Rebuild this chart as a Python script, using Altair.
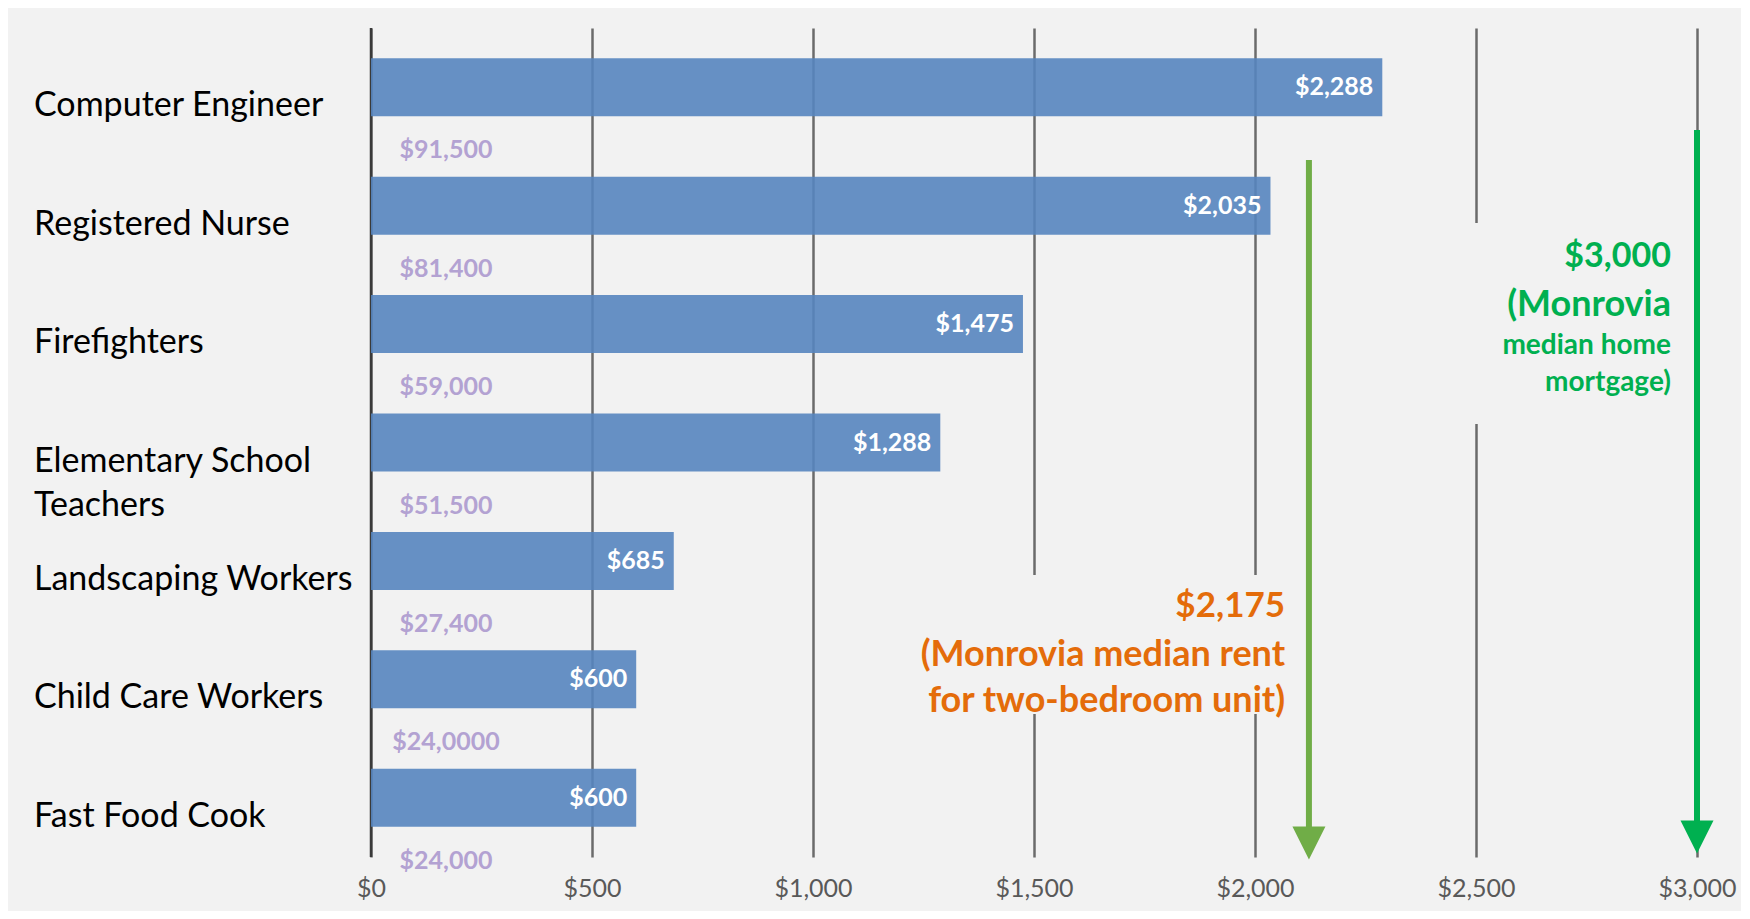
import altair as alt
import pandas as pd

# ---- data ----
categories = ["Computer Engineer", "Registered Nurse", "Firefighters",
              "Elementary School Teachers", "Landscaping Workers",
              "Child Care Workers", "Fast Food Cook"]
display_labels = ["Computer Engineer", "Registered Nurse", "Firefighters",
                  "Elementary School\nTeachers", "Landscaping Workers",
                  "Child Care Workers", "Fast Food Cook"]
monthly_housing = [2288, 2035, 1475, 1288, 685, 600, 600]
value_labels = ["$2,288", "$2,035", "$1,475", "$1,288", "$685", "$600", "$600"]
salary_labels = ["$91,500", "$81,400", "$59,000", "$51,500", "$27,400",
                 "$24,0000", "$24,000"]
x_ticks = [0, 500, 1000, 1500, 2000, 2500, 3000]

rent_arrow_x = 2122
mortgage_arrow_x = 3000
rent_text = ["$2,175", "(Monrovia median rent", "for two-bedroom unit)"]
mortgage_text = ["$3,000", "(Monrovia", "median home", "mortgage)"]

df = pd.DataFrame({
    "cat": categories,
    "label": display_labels,
    "value": monthly_housing,
    "vlabel": value_labels,
    "salary": salary_labels,
})

# ---- layout / styles ----
W, H = 1326, 829
FONT = "Lato"
BAR = "#5685bf"
ORANGE = "#e46c0a"
LGREEN = "#70ad47"
DGREEN = "#00b050"
PURPLE = "#b3a2d2"

y_enc = alt.Y("cat:N", sort=categories, axis=None,
              scale=alt.Scale(paddingInner=0.51, paddingOuter=0.255))
x_scale = alt.Scale(domain=[0, 3000], nice=False, zero=True)

base = alt.Chart(df)

bars = base.mark_bar(color=BAR, opacity=0.9).encode(
    y=y_enc,
    x=alt.X("value:Q", scale=x_scale, title=None,
            axis=alt.Axis(values=x_ticks, format="$,.0f", grid=True,
                          domain=False, ticks=False, labelPadding=19,
                          labelFlush=False,
                          labelColor="#595959", labelFont=FONT,
                          labelFontSize=25, gridColor="#6b6b6b",
                          gridWidth=2.5, gridOpacity=1)),
)

val_text = base.mark_text(align="right", baseline="middle", dx=-9,
                          color="white", font=FONT, fontWeight="bold",
                          fontSize=25).encode(
    y=y_enc, x=alt.X("value:Q", scale=x_scale), text="vlabel:N")

sal_text = base.mark_text(align="center", baseline="middle", dy=63,
                          color=PURPLE, font=FONT, fontWeight="bold",
                          fontSize=25).encode(
    y=y_enc, x=alt.value(75), text="salary:N")

cat_text = base.mark_text(align="left", baseline="middle", dy=19,
                          color="black", font=FONT, fontSize=34,
                          lineBreak="\n", lineHeight=44).encode(
    y=y_enc, x=alt.value(-337), text="label:N")

one = pd.DataFrame({"a": [0]})


def cover(x0, x1, y0, y1):
    return alt.Chart(one).mark_rect(color="#f2f2f2").encode(
        x=alt.X(datum=x0, type="quantitative", scale=x_scale),
        x2=alt.X2(datum=x1),
        y=alt.value(y0), y2=alt.value(y1))


def arrow(xv, top, color, head_center):
    line = alt.Chart(one).mark_rule(color=color, strokeWidth=6).encode(
        x=alt.X(datum=xv, type="quantitative", scale=x_scale),
        y=alt.value(top), y2=alt.value(H - 28))
    head = alt.Chart(one).mark_point(shape="M-1,-1L1,-1L0,1Z", size=1089,
                                     filled=True, opacity=1,
                                     color=color).encode(
        x=alt.X(datum=xv, type="quantitative", scale=x_scale),
        y=alt.value(head_center))
    return line + head


def text_lines(lines, xv, ys, sizes, color):
    layers = []
    for t, yy, s in zip(lines, ys, sizes):
        layers.append(alt.Chart(one).mark_text(
            align="right", baseline="middle", color=color, font=FONT,
            fontWeight="bold", fontSize=s, text=t).encode(
            x=alt.X(datum=xv, type="quantitative", scale=x_scale),
            y=alt.value(yy)))
    return alt.layer(*layers)


zero_line = alt.Chart(one).mark_rule(color="#3a3a3a", strokeWidth=2.5).encode(
    x=alt.X(datum=x_ticks[0], type="quantitative", scale=x_scale),
    y=alt.value(0), y2=alt.value(H))

covers = cover(2380, 2620, 195, 396) + cover(1380, 2075, 547, 686)
arrows = arrow(rent_arrow_x, 132, LGREEN, H - 14) + \
    arrow(mortgage_arrow_x, 102, DGREEN, H - 20)
orange_txt = text_lines(rent_text, 2068, [578, 627, 673], [35, 36, 36], ORANGE)
green_txt = text_lines(mortgage_text, 2941, [229, 277, 318, 355],
                       [34, 36, 28, 28], DGREEN)

chart = alt.layer(zero_line, bars, covers, val_text, sal_text, cat_text,
                  arrows, orange_txt, green_txt).properties(
    width=W, height=H,
    autosize=alt.AutoSizeParams(type="none"),
    padding={"left": 363, "top": 20, "right": 44, "bottom": 54},
).configure(background="#f2f2f2").configure_view(stroke=None)

chart.save("out.html", embed_options={"renderer": "svg", "actions": False})
